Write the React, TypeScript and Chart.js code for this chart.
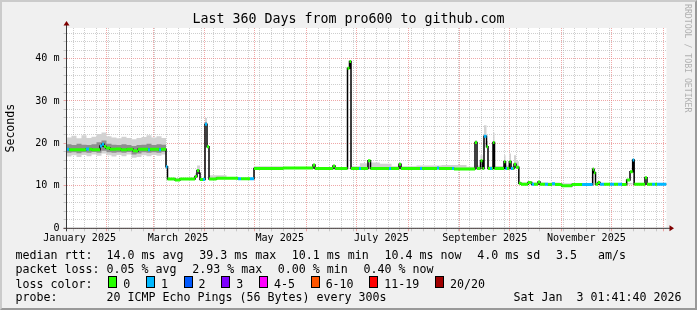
import React, { useEffect, useRef } from 'react';
import { Chart, registerables } from 'chart.js';

Chart.register(...registerables);

const MONO = "'DejaVu Sans Mono', monospace";

// ---- x axis (days since Jan 8 2025 01:41:40, span 360 days) ----
const monthStartDays = [23.93, 51.93, 82.93, 112.93, 143.93, 173.93, 204.93, 235.93, 265.93, 296.93, 326.93, 357.93];
const monthLabelDays = [7.93, 66.93, 127.93, 188.93, 250.93, 311.93];
const monthLabels = ['January 2025', 'March 2025', 'May 2025', 'July 2025', 'September 2025', 'November 2025'];
const firstSunday = 3.93;

// ---- median rtt (ms), value held from days[i] to days[i+1]; loss = lost pings of 20 ----
const days = [0, 1.5, 11.7, 13.5, 15.3, 20.1, 21.3, 22.5, 23.7, 26.1,
  29.7, 32.7, 36.3, 39.9, 41.7, 42.9, 48.9, 50.1, 55.5, 56.7,
  59.7, 60.6, 65.1, 68.1, 77.1, 78.3, 79.5, 80.1, 81.9, 83.1,
  84.3, 85.5, 90.0, 102.9, 104.7, 110.1, 112.5, 130.0, 147.9, 149.1,
  159.9, 161.1, 168.6, 169.8, 170.7, 175.5, 176.7, 180.9, 182.4, 193.5,
  194.7, 199.5, 200.7, 212.1, 213.3, 222.3, 223.5, 231.3, 232.5, 245.1,
  246.3, 248.4, 249.6, 250.5, 252.0, 252.9, 254.1, 255.3, 255.9, 256.8,
  262.5, 263.4, 264.3, 265.7, 266.7, 267.9, 268.5, 269.7, 271.4, 272.7,
  276.9, 279.1, 280.5, 282.9, 284.1, 287.1, 288.9, 291.3, 293.1, 297.1,
  303.3, 309.3, 315.7, 316.5, 317.4, 318.9, 320.1, 322.5, 326.1, 328.5,
  330.9, 333.3, 336.1, 338.1, 339.7, 340.6, 347.1, 348.3, 351.3, 353.1,
  354.3, 360];
const median = [18.6, 18.5, 18.7, 18.6, 18.5, 19.4, 19.8, 19.3, 18.9, 18.6,
  18.7, 18.5, 18.6, 18.3, 18.2, 18.6, 18.5, 18.6, 18.5, 18.6,
  14.5, 11.6, 11.4, 11.6, 12.2, 13.6, 13.0, 11.5, 11.5, 24.5,
  19.2, 11.6, 11.8, 11.7, 11.7, 11.7, 14.1, 14.2, 14.9, 14.1,
  14.7, 14.1, 37.7, 39.3, 14.1, 14.1, 14.1, 15.9, 14.1, 14.1,
  14.1, 15.1, 14.1, 14.1, 14.1, 14.2, 14.1, 14.1, 14.0, 20.2,
  14.1, 15.9, 14.1, 21.7, 19.2, 14.1, 14.1, 14.1, 20.2, 14.1,
  15.7, 14.1, 14.1, 15.7, 14.1, 14.1, 15.1, 14.4, 10.6, 10.4,
  10.8, 10.4, 10.4, 10.9, 10.4, 10.4, 10.3, 10.5, 10.3, 10.0,
  10.3, 10.3, 13.9, 13.1, 10.4, 10.8, 10.4, 10.4, 10.4, 10.4,
  10.4, 10.3, 11.4, 13.3, 16.1, 10.4, 11.9, 10.4, 10.4, 10.4,
  10.4, 10.4];
const loss = [1, 0, 1, 0, 0, 1, 1, 0, 0, 0,
  0, 0, 0, 0, 0, 0, 1, 0, 1, 0,
  1, 0, 0, 0, 0, 0, 0, 0, 1, 1,
  0, 0, 0, 1, 0, 1, 0, 0, 0, 0,
  0, 0, 0, 0, 0, 1, 0, 0, 0, 1,
  0, 0, 0, 1, 0, 1, 0, 1, 0, 0,
  0, 0, 0, 1, 0, 0, 1, 0, 0, 0,
  0, 1, 0, 0, 1, 0, 0, 0, 0, 0,
  0, 1, 0, 0, 0, 1, 0, 1, 0, 0,
  0, 1, 0, 0, 0, 0, 1, 0, 1, 0,
  1, 0, 0, 0, 1, 0, 0, 0, 1, 0,
  1, 1];

// ---- smoke (ping spread, ms) ----
const smokeDays = [0, 3, 6, 9, 12, 15, 18, 21, 24, 27, 30, 33, 36, 39, 42, 45, 48, 51, 54, 57,
  59.7, 60.6, 77.1, 78.3, 80.1, 83.1, 84.3, 85.5, 96, 112.5,
  130, 168.6, 169.8, 170.7, 176, 182.4, 188, 195, 210, 225,
  240, 245.1, 246.3, 248.4, 249.6, 250.5, 252, 252.9, 255.9, 256.8,
  262.5, 263.4, 265.7, 266.7, 268.5, 269.7, 271.4, 296, 315.7, 316.5,
  317.4, 339.7, 340.6, 360];
const smokeLo = [16.9, 17.2, 16.8, 17.3, 17.0, 17.4, 17.1, 17.6, 17.2, 16.9, 17.3, 17.0, 17.4, 16.6, 16.8, 17.2, 17.0, 17.3, 17.1, 17.4,
  14.3, 11.5, 12.0, 13.3, 11.5, 24.3, 19.0, 11.6, 11.6, 14.0,
  14.0, 37.5, 39.1, 14.0, 14.0, 14.0, 14.0, 14.0, 14.0, 14.0,
  14.0, 20.0, 14.0, 15.7, 14.0, 21.5, 19.0, 14.0, 20.0, 14.0,
  15.5, 14.0, 15.5, 14.0, 15.0, 14.2, 10.3, 10.2, 13.7, 13.0,
  10.3, 15.9, 10.3, 10.3];
const smokeHi = [21.4, 21.8, 21.2, 21.9, 21.3, 21.6, 22.2, 22.6, 21.7, 21.4, 21.2, 21.6, 21.3, 21.0, 21.3, 21.5, 21.9, 21.4, 21.7, 21.3,
  14.8, 11.8, 13.0, 14.8, 11.8, 26.0, 19.6, 12.5, 11.9, 14.6,
  14.4, 38.0, 39.6, 14.6, 15.3, 15.5, 15.2, 14.6, 14.8, 14.9,
  14.5, 20.8, 14.8, 17.2, 14.6, 24.3, 20.6, 14.6, 22.6, 14.7,
  17.2, 14.8, 17.6, 14.7, 17.2, 15.8, 10.8, 10.6, 14.4, 13.5,
  10.7, 16.4, 10.7, 10.7];
const coreLo = [17.8, 17.9, 17.7, 17.9, 17.8, 18.0, 17.8, 18.3, 17.9, 17.8, 17.9, 17.8, 18.0, 17.4, 17.6, 17.9, 17.8, 17.9, 17.8, 18.0,
  14.3, 11.5, 12.0, 13.3, 11.5, 24.3, 19.0, 11.6, 11.6, 14.0,
  14.0, 37.5, 39.1, 14.0, 14.0, 14.0, 14.0, 14.0, 14.0, 14.0,
  14.0, 20.0, 14.0, 15.7, 14.0, 21.5, 19.0, 14.0, 20.0, 14.0,
  15.5, 14.0, 15.5, 14.0, 15.0, 14.2, 10.3, 10.2, 13.7, 13.0,
  10.3, 15.9, 10.3, 10.3];
const coreHi = [19.8, 19.6, 19.9, 19.7, 19.6, 19.8, 20.3, 20.7, 19.9, 19.7, 19.6, 19.8, 19.6, 19.4, 19.6, 19.7, 19.9, 19.6, 19.8, 19.7,
  14.3, 11.5, 12.0, 13.3, 11.5, 25.0, 19.0, 11.6, 11.6, 14.0,
  14.0, 37.5, 39.1, 14.0, 14.0, 14.0, 14.0, 14.0, 14.0, 14.0,
  14.0, 20.0, 14.0, 15.7, 14.0, 21.5, 19.0, 14.0, 20.0, 14.0,
  15.5, 14.0, 15.5, 14.0, 15.0, 14.2, 10.3, 10.2, 13.7, 13.0,
  10.3, 15.9, 10.3, 10.3];

// ---- legend ----
const lossColors = ['#26ff00', '#00b8ff', '#0059ff', '#7e00ff', '#ff00ff', '#ff5500', '#ff0000', '#a00000'];
const lossLabels = ['0', '1', '2', '3', '4-5', '6-10', '11-19', '20/20'];
const rttItems = ['median rtt:  14.0 ms avg', '39.3 ms max', '10.1 ms min', '10.4 ms now', '4.0 ms sd', '3.5   am/s'];
const lossItems = ['packet loss: 0.05 % avg', '2.93 % max', '0.00 % min', '0.40 % now'];
const probeText = 'probe:       20 ICMP Echo Pings (56 Bytes) every 300s';
const dateText = 'Sat Jan  3 01:41:40 2026';
const titleText = 'Last 360 Days from pro600 to github.com';

const MAJOR = 'rgba(230,120,120,0.65)';
const MINOR = 'rgba(165,165,165,0.55)';

function lossSegments(level: number) {
  const pts: { x: number; y: number | null }[] = [];
  for (let i = 0; i < days.length - 1; i++) {
    if (loss[i] !== level) continue;
    pts.push({ x: days[i], y: median[i] }, { x: days[i + 1], y: median[i] }, { x: days[i + 1], y: null });
  }
  return pts;
}

function series(xs: number[], ys: number[]) {
  return xs.map((x, i) => ({ x, y: ys[i] }));
}

export default function App() {
  const ref = useRef<HTMLCanvasElement>(null);

  useEffect(() => {
    const canvas = ref.current;
    if (!canvas) return;

    // x ticks: weekly (minor), month starts (major), label positions
    const xTickInfo = new Map<number, { grid: string; label: string }>();
    for (let d = firstSunday; d < 360; d += 7) {
      xTickInfo.set(Math.round(d * 100) / 100, { grid: MINOR, label: '' });
    }
    monthStartDays.forEach((d) => xTickInfo.set(d, { grid: MAJOR, label: '' }));
    monthLabelDays.forEach((d, i) => {
      const prev = xTickInfo.get(d);
      xTickInfo.set(d, { grid: prev ? prev.grid : 'rgba(0,0,0,0)', label: monthLabels[i] });
    });
    const xTicks = Array.from(xTickInfo.keys()).sort((a, b) => a - b);
    const yTicks: number[] = [];
    for (let v = 0; v <= 46; v += 2) yTicks.push(v);

    const decor = {
      id: 'decor',
      beforeDraw(chart: any) {
        const { ctx, chartArea: a } = chart;
        ctx.save();
        ctx.fillStyle = '#ffffff';
        ctx.fillRect(a.left, a.top, a.right - a.left, a.bottom - a.top);
        ctx.restore();
      },
      afterDraw(chart: any) {
        const { ctx, chartArea: a } = chart;
        ctx.save();
        ctx.strokeStyle = '#3a3a3a';
        ctx.lineWidth = 1;
        ctx.beginPath();
        ctx.moveTo(a.left, a.bottom + 3);
        ctx.lineTo(a.left, a.top - 3);
        ctx.moveTo(a.left - 3, a.bottom);
        ctx.lineTo(a.right + 4, a.bottom);
        ctx.stroke();
        ctx.fillStyle = '#7f0000';
        ctx.beginPath();
        ctx.moveTo(a.left, a.top - 7);
        ctx.lineTo(a.left - 3, a.top - 2.5);
        ctx.lineTo(a.left + 3, a.top - 2.5);
        ctx.closePath();
        ctx.fill();
        ctx.beginPath();
        ctx.moveTo(a.right + 7.5, a.bottom);
        ctx.lineTo(a.right + 3, a.bottom - 3);
        ctx.lineTo(a.right + 3, a.bottom + 3);
        ctx.closePath();
        ctx.fill();
        ctx.restore();
      },
    };

    const base = { pointRadius: 0, pointHoverRadius: 0, tension: 0, parsing: true };

    const chart = new Chart(canvas, {
      type: 'line',
      data: {
        datasets: [
          { ...base, label: 'loss 0', data: lossSegments(0), borderColor: lossColors[0], borderWidth: 3, borderCapStyle: 'butt', spanGaps: false, fill: false, order: 0 },
          { ...base, label: 'loss 1', data: lossSegments(1), borderColor: lossColors[1], borderWidth: 3, borderCapStyle: 'butt', spanGaps: false, fill: false, order: 0 },
          { ...base, label: 'median', data: series(days, median), stepped: 'before', borderColor: '#000000', borderWidth: 1.5, fill: false, order: 1 },
          { ...base, label: 'coreHi', data: series(smokeDays, coreHi), stepped: 'before', borderWidth: 0, borderColor: 'rgba(0,0,0,0)', fill: false, order: 2 },
          { ...base, label: 'coreLo', data: series(smokeDays, coreLo), stepped: 'before', borderWidth: 0, borderColor: 'rgba(0,0,0,0)', backgroundColor: '#8e8e8e', fill: 3, order: 2 },
          { ...base, label: 'smokeHi', data: series(smokeDays, smokeHi), stepped: 'before', borderWidth: 0, borderColor: 'rgba(0,0,0,0)', fill: false, order: 3 },
          { ...base, label: 'smokeLo', data: series(smokeDays, smokeLo), stepped: 'before', borderWidth: 0, borderColor: 'rgba(0,0,0,0)', backgroundColor: '#d2d2d2', fill: 5, order: 3 },
        ] as any,
      },
      options: {
        animation: false,
        responsive: false,
        maintainAspectRatio: false,
        events: [],
        layout: { padding: { top: 28, right: 30.5, left: 0, bottom: 0 } },
        plugins: {
          legend: { display: false },
          tooltip: { enabled: false },
          title: { display: false },
        },
        scales: {
          x: {
            type: 'linear',
            min: 0,
            max: 360,
            afterBuildTicks: (s: any) => {
              s.ticks = xTicks.map((v) => ({ value: v }));
            },
            afterFit: (s: any) => {
              s.height = 81.7;
            },
            ticks: {
              autoSkip: false,
              maxRotation: 0,
              minRotation: 0,
              padding: 0.7,
              color: '#000',
              font: { family: MONO, size: 10.1 },
              callback: (v: any) => (xTickInfo.get(v as number)?.label ?? ''),
            },
            grid: {
              color: (ctx: any) => (ctx.tick ? xTickInfo.get(ctx.tick.value)?.grid ?? MINOR : MINOR),
              lineWidth: 1,
              tickLength: 3,
              drawTicks: true,
            },
            border: { display: false, dash: [1, 1] },
          },
          y: {
            type: 'linear',
            min: 0,
            max: 47.2,
            afterBuildTicks: (s: any) => {
              s.ticks = yTicks.map((v) => ({ value: v }));
            },
            afterFit: (s: any) => {
              s.width = 66.5;
            },
            ticks: {
              autoSkip: false,
              padding: 4,
              color: '#000',
              font: { family: MONO, size: 10.1 },
              callback: (v: any) => (v % 10 === 0 ? (v === 0 ? '0' : `${v} m`) : ''),
            },
            grid: {
              color: (ctx: any) => (ctx.tick && ctx.tick.value % 10 === 0 ? MAJOR : MINOR),
              lineWidth: 1,
              tickLength: 3,
              drawTicks: true,
            },
            border: { display: false, dash: [1, 1] },
            title: {
              display: true,
              text: 'Seconds',
              color: '#000',
              font: { family: MONO, size: 11.6 },
              padding: { top: 4, bottom: 0 },
            },
          },
        },
      } as any,
      plugins: [decor],
    });

    return () => chart.destroy();
  }, []);

  const legendFont: React.CSSProperties = {
    position: 'absolute',
    left: 15.5,
    fontFamily: MONO,
    fontSize: 11.63,
    lineHeight: '14px',
    whiteSpace: 'pre',
    color: '#000',
  };
  const gap = 15.7;

  return (
    <div style={{ position: 'fixed', left: 0, top: 0, width: 697, height: 310, background: '#f0f0f0', overflow: 'hidden' }}>
      <canvas ref={ref} width={697} height={310} style={{ position: 'absolute', left: 0, top: 0, width: 697, height: 310 }} />
      <div style={{ position: 'absolute', left: 0, top: 11.4, width: 697, textAlign: 'center', fontFamily: MONO, fontSize: 13.3, lineHeight: '16px', whiteSpace: 'pre', color: '#000' }}>
        {titleText}
      </div>
      <div style={{ position: 'absolute', left: 683, top: 4, writingMode: 'vertical-rl', fontFamily: MONO, fontSize: 8.2, lineHeight: '10px', whiteSpace: 'nowrap', color: '#b0b0b0' }}>
        RRDTOOL / TOBI OETIKER
      </div>
      <div style={{ ...legendFont, top: 247.5 }}>
        {rttItems.map((t, i) => (
          <span key={i} style={{ display: 'inline-block', marginRight: i < rttItems.length - 1 ? gap : 0 }}>{t}</span>
        ))}
      </div>
      <div style={{ ...legendFont, top: 261.5 }}>
        {lossItems.map((t, i) => (
          <span key={i} style={{ display: 'inline-block', marginRight: i < lossItems.length - 1 ? gap : 0 }}>{t}</span>
        ))}
      </div>
      <div style={{ ...legendFont, top: 275.5 }}>
        <span style={{ display: 'inline-block', marginRight: gap }}>loss color:</span>
        {lossLabels.map((t, i) => (
          <span key={i} style={{ display: 'inline-block', marginRight: gap }}>
            <span style={{ display: 'inline-block', width: 9, height: 12, boxSizing: 'border-box', border: '1px solid #000', background: lossColors[i], marginRight: 6, verticalAlign: 'baseline' }} />
            {t}
          </span>
        ))}
      </div>
      <div style={{ ...legendFont, top: 289.5 }}>{probeText}</div>
      <div style={{ ...legendFont, left: undefined, right: 15.5, top: 289.5 }}>{dateText}</div>
      <div style={{ position: 'absolute', inset: 0, boxSizing: 'border-box', borderTop: '2px solid #cbcbcb', borderLeft: '2px solid #cbcbcb', borderRight: '2px solid #999999', borderBottom: '2px solid #999999', pointerEvents: 'none' }} />
    </div>
  );
}
